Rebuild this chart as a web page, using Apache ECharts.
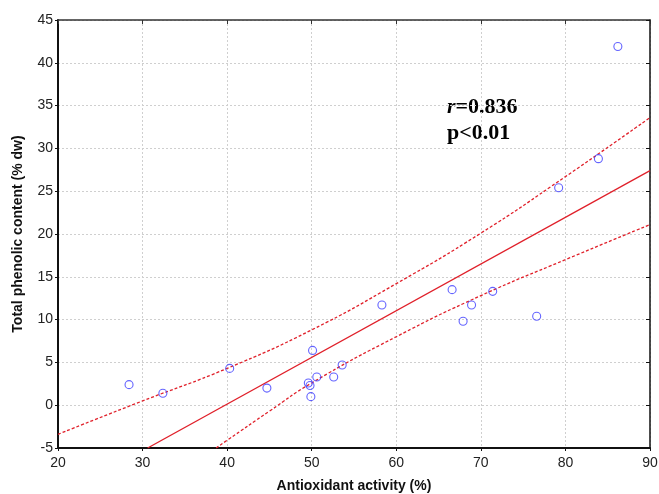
<!DOCTYPE html>
<html>
<head>
<meta charset="utf-8">
<script src="https://cdn.jsdelivr.net/npm/echarts@6/dist/echarts.min.js"></script>
<style>
  html, body { margin: 0; padding: 0; background: #fff; }
  #chart { width: 659px; height: 494px; }
</style>
</head>
<body>
<div id="chart"></div>
<script>
  // 样本点：抗氧化活性 (%) vs 总酚含量 (% dw)
  var antioxidant = [28.4, 32.4, 40.3, 44.7, 49.6, 49.8, 49.9, 50.1, 50.6, 52.6, 53.6,
    58.3, 66.6, 67.9, 68.9, 71.4, 76.6, 79.2, 83.9, 86.2];
  var phenolic = [2.4, 1.4, 4.3, 2.0, 2.6, 2.3, 1.0, 6.4, 3.3, 3.3, 4.7,
    11.7, 13.5, 9.8, 11.7, 13.3, 10.4, 25.4, 28.8, 41.9];

  // 回归线与95%置信带
  var fitX = [30.6, 90];
  var fitY = [-5, 27.4];
  var upperX = [20, 30, 40, 50, 60, 70, 80, 90];
  var upperY = [-3.4, 0.5, 4.3, 8.8, 14.2, 20.1, 26.7, 33.6];
  var lowerX = [38.7, 40, 45, 50, 60, 70, 80, 90];
  var lowerY = [-5, -4.1, -0.7, 2.6, 8.0, 12.8, 17.0, 21.1];

  var xMin = 20, xMax = 90, xStep = 10;
  var yMin = -5, yMax = 45, yStep = 5;

  function pairs(xs, ys) {
    return xs.map(function (x, i) { return [x, ys[i]]; });
  }

  var chart = echarts.init(document.getElementById("chart"));
  var fontFamily = "Liberation Sans, Arial, sans-serif";
  var serifFamily = "Liberation Serif, Times New Roman, serif";
  var redColor = "#e0202a";

  var gridLine = {
    show: true,
    lineStyle: { color: "#cfcfcf", width: 1, type: [2, 2] }
  };

  chart.setOption({
    animation: false,
    grid: { left: 58, right: 9, top: 20, bottom: 46, containLabel: false, outerBoundsMode: "none" },
    xAxis: [
      {
        type: "value", min: xMin, max: xMax, interval: xStep,
        name: "Antioxidant activity (%)",
        nameLocation: "middle", nameGap: 31,
        nameTextStyle: { fontFamily: fontFamily, fontWeight: "bold", fontSize: 14, color: "#111" },
        axisLine: { show: true, onZero: false, lineStyle: { color: "#111", width: 2 } },
        axisTick: { show: true, inside: false, length: 3, lineStyle: { color: "#111" } },
        axisLabel: { fontFamily: fontFamily, fontSize: 14, color: "#222", margin: 8 },
        splitLine: gridLine
      },
      {
        type: "value", position: "top", min: xMin, max: xMax, interval: xStep,
        axisLine: { show: true, onZero: false, lineStyle: { color: "#333", width: 1.5 } },
        axisTick: { show: true, inside: true, length: 4, lineStyle: { color: "#333" } },
        axisLabel: { show: false },
        splitLine: { show: false }
      }
    ],
    yAxis: [
      {
        type: "value", min: yMin, max: yMax, interval: yStep,
        name: "Total phenolic content (% dw)",
        nameLocation: "middle", nameGap: 33, nameRotate: 90,
        nameTextStyle: { fontFamily: fontFamily, fontWeight: "bold", fontSize: 14, color: "#111" },
        axisLine: { show: true, onZero: false, lineStyle: { color: "#111", width: 2 } },
        axisTick: { show: true, inside: false, length: 3, lineStyle: { color: "#111" } },
        axisLabel: { fontFamily: fontFamily, fontSize: 14, color: "#222", margin: 5 },
        splitLine: gridLine
      },
      {
        type: "value", position: "right", min: yMin, max: yMax, interval: yStep,
        axisLine: { show: true, onZero: false, lineStyle: { color: "#111", width: 1.5 } },
        axisTick: { show: true, inside: true, length: 4, lineStyle: { color: "#111" } },
        axisLabel: { show: false },
        splitLine: { show: false }
      }
    ],
    series: [
      {
        name: "upper",
        type: "line",
        data: pairs(upperX, upperY),
        smooth: true,
        symbol: "none",
        clip: true,
        lineStyle: { color: redColor, width: 1.3, type: [3, 2] },
        z: 2
      },
      {
        name: "lower",
        type: "line",
        data: pairs(lowerX, lowerY),
        smooth: true,
        symbol: "none",
        clip: true,
        lineStyle: { color: redColor, width: 1.3, type: [3, 2] },
        z: 2
      },
      {
        name: "fit",
        type: "line",
        data: pairs(fitX, fitY),
        symbol: "none",
        clip: true,
        lineStyle: { color: redColor, width: 1.3 },
        z: 2
      },
      {
        name: "samples",
        type: "scatter",
        data: pairs(antioxidant, phenolic),
        symbol: "circle",
        symbolSize: 8,
        itemStyle: { color: "rgba(0,0,0,0)", borderColor: "#3d3dff", borderWidth: 1.1 },
        z: 3
      }
    ],
    graphic: [
      {
        type: "text",
        left: 447,
        top: 96,
        style: {
          text: "{i|r}{b|=0.836}\n{b|p<0.01}",
          rich: {
            i: { fontFamily: serifFamily, fontStyle: "italic", fontWeight: "bold", fontSize: 22, lineHeight: 26, fill: "#000" },
            b: { fontFamily: serifFamily, fontWeight: "bold", fontSize: 22, lineHeight: 26, fill: "#000" }
          }
        }
      }
    ]
  });
</script>
</body>
</html>
